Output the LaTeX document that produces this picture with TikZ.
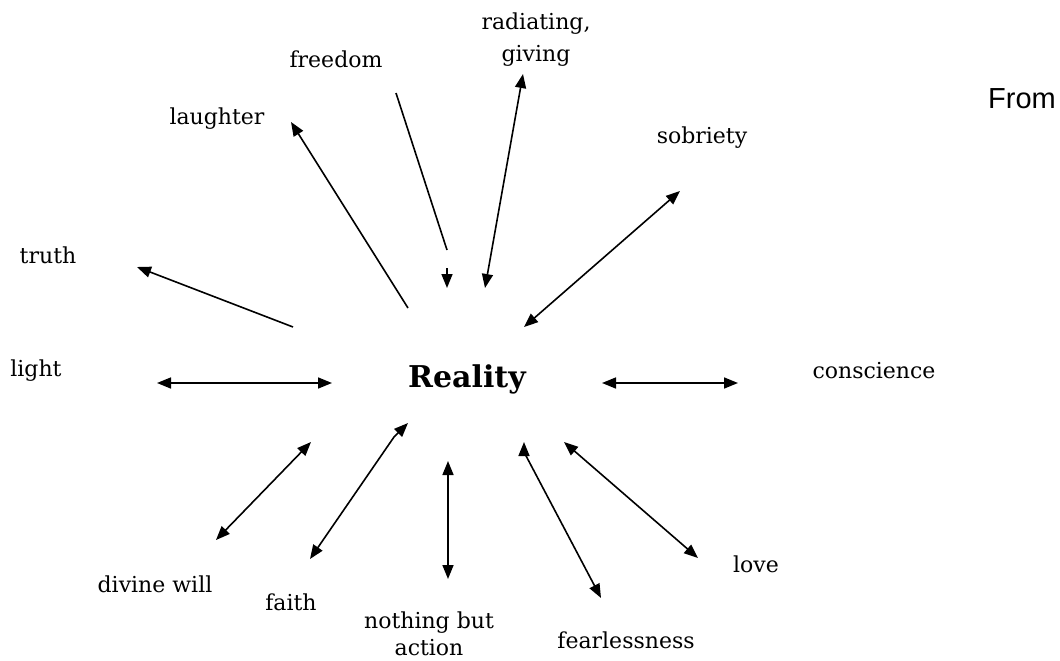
\documentclass[tikz,border=0pt]{standalone}
\usepackage{fontspec}
\setmainfont{DejaVu Serif}
\newfontfamily\fromfont{Liberation Sans}
\usetikzlibrary{arrows.meta}
\tikzset{
  lbl/.style={inner sep=0pt, font=\fontsize{22}{27}\selectfont, text=black},
  ctr/.style={inner sep=0pt, font=\fontsize{30}{34}\selectfont\bfseries},
  conn/.style={line width=1.6pt, draw=black},
  tip/.style={-{Triangle[length=14pt,width=11pt]}},
  dtip/.style={{Triangle[length=14pt,width=11pt]}-{Triangle[length=14pt,width=11pt]}},
}
\begin{document}
\begin{tikzpicture}[x=1pt,y=-1pt]
\useasboundingbox (0,0) rectangle (1060,661);
% labels
\node[lbl, align=center, font=\fontsize{22}{32}\selectfont] (radiating) at (536,40) {radiating,\\giving};
\node[lbl] (freedom) at (336,59) {freedom};
\node[lbl] (laughter) at (217,119) {laughter};
\node[lbl] (sobriety) at (702,138) {sobriety};
\node[lbl] (truth) at (48,255) {truth};
\node[lbl] (light) at (36,371) {light};
\node[ctr] (reality) at (467,379) {Reality};
\node[lbl] (conscience) at (874,371) {conscience};
\node[lbl] (divine) at (155,584) {divine will};
\node[lbl] (faith) at (291,602) {faith};
\node[lbl, align=center] (action) at (429,634) {nothing but\\action};
\node[lbl] (fear) at (626,640) {fearlessness};
\node[lbl] (love) at (756,564) {love};
\node[inner sep=0pt, anchor=west, font=\fromfont\fontsize{29}{32}\selectfont] (from) at (988,99) {From};
% connector ends
\coordinate (fr1) at (396,93);
\coordinate (fr2) at (447,250);
\coordinate (fr3) at (447,268);
\coordinate (fr4) at (447,288);
\coordinate (ra1) at (523,74);
\coordinate (ra2) at (485,288);
\coordinate (la1) at (408,308);
\coordinate (la2) at (291,122);
\coordinate (tr1) at (293,327);
\coordinate (tr2) at (137,267);
\coordinate (so1) at (524,327);
\coordinate (so2) at (680,191);
\coordinate (li1) at (157,383);
\coordinate (li2) at (332,383);
\coordinate (co1) at (602,383);
\coordinate (co2) at (738,383);
\coordinate (dv1) at (216,540);
\coordinate (dv2) at (311,442);
\coordinate (fa1) at (310,559);
\coordinate (fa2) at (408,423);
\coordinate (ac1) at (448,461);
\coordinate (ac2) at (448,579);
\coordinate (fe1) at (524,442);
\coordinate (fe2) at (601,598);
\coordinate (lo1) at (564,442);
\coordinate (lo2) at (698,558);
% connectors
\draw[conn] (fr1) -- (fr2);
\draw[conn, tip] (fr3) -- (fr4);
\draw[conn, dtip] (ra1) -- (ra2);
\draw[conn, tip] (la1) -- (la2);
\draw[conn, tip] (tr1) -- (tr2);
\draw[conn, dtip] (so1) -- (so2);
\draw[conn, dtip] (li1) -- (li2);
\draw[conn, dtip] (co1) -- (co2);
\draw[conn, dtip] (dv1) -- (dv2);
\draw[conn, dtip] (fa1) -- (394,437) -- (fa2);
\draw[conn, dtip] (ac1) -- (ac2);
\draw[conn, dtip] (fe1) -- (524,452) -- (fe2);
\draw[conn, dtip] (lo1) -- (lo2);
\end{tikzpicture}
\end{document}
